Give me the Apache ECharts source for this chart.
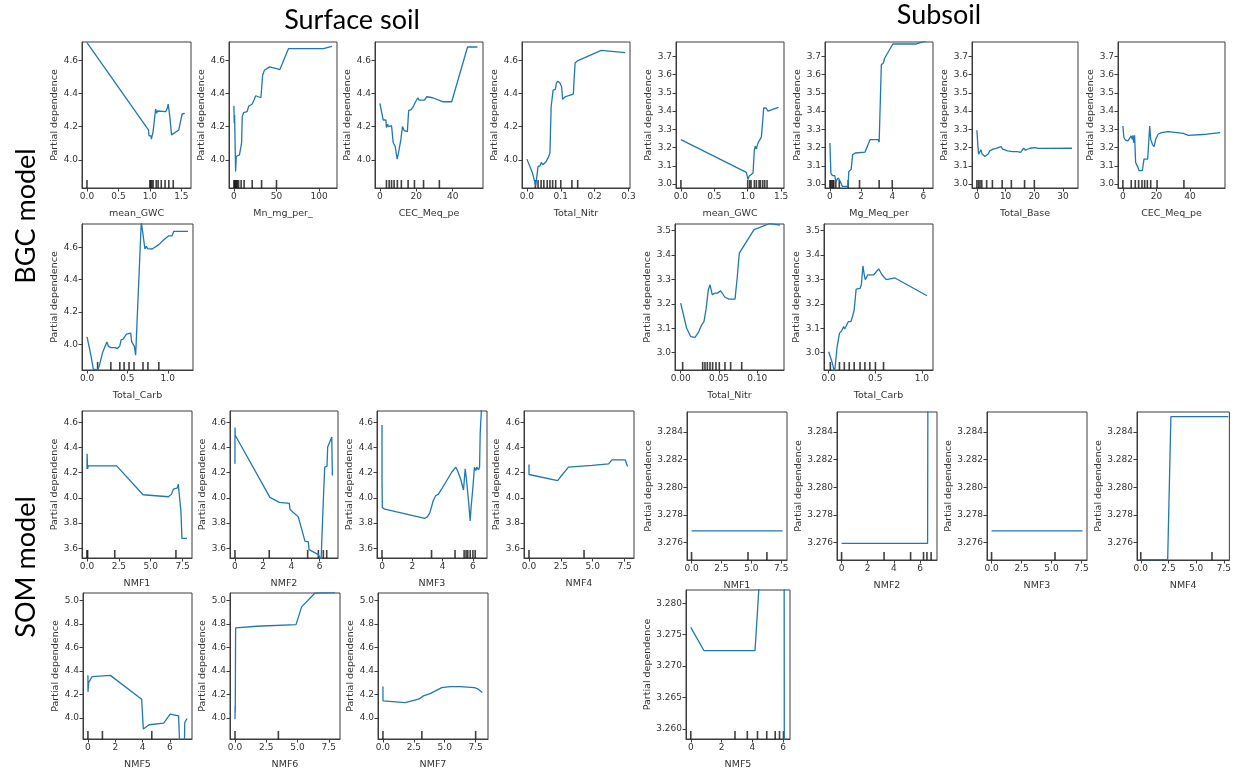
<!DOCTYPE html>
<html><head><meta charset="utf-8">
<script src="https://cdn.jsdelivr.net/npm/echarts@6/dist/echarts.min.js"></script>
<style>html,body{margin:0;padding:0;background:#fff}#c{width:1234px;height:771px}</style>
</head><body><div id="c"></div>
<script>
// ---------- DATA: surface soil, BGC model ----------
const surf_meanGWC = [[0,4.706],[0.976,4.18],[0.986,4.144],[1.018,4.144],[1.023,4.124],[1.05,4.17],[1.07,4.17],[1.08,4.18],[1.09,4.306],[1.107,4.28],[1.118,4.294],[1.249,4.29],[1.275,4.31],[1.29,4.336],[1.31,4.336],[1.316,4.26],[1.327,4.264],[1.343,4.15],[1.364,4.156],[1.458,4.18],[1.511,4.276],[1.553,4.28]];
const surf_meanGWC_rug = [0,1.0,1.01,1.03,1.05,1.1,1.13,1.18,1.24,1.3,1.37];
const surf_Mn = [[0,4.324],[0.4,4.22],[0.8,4.27],[2.0,3.93],[2.8,4.02],[4,4.03],[6.5,4.03],[9,4.1],[9.8,4.26],[11.4,4.284],[13.4,4.28],[15.4,4.29],[17.5,4.324],[21.5,4.336],[23.6,4.36],[25.6,4.386],[27.6,4.374],[31.7,4.374],[33.7,4.51],[35.8,4.54],[41.9,4.56],[50,4.55],[54,4.544],[64,4.67],[105,4.67],[115,4.684]];
const surf_Mn_rug = [0,1,2,3,4,5.5,8.5,12,21.5,32.5,50];
const surf_CEC = [[0,4.34],[1.8,4.24],[3.3,4.24],[3.6,4.194],[4.2,4.214],[4.7,4.2],[5.5,4.21],[6.4,4.206],[7.3,4.104],[8.4,4.08],[9.5,4.004],[10.2,4.04],[11.5,4.12],[12.4,4.2],[13.3,4.176],[15.1,4.17],[15.8,4.296],[17.3,4.304],[18.5,4.324],[19.6,4.35],[20.9,4.374],[21.5,4.36],[24.5,4.36],[25.8,4.38],[29,4.374],[34.5,4.35],[39.5,4.35],[48.2,4.68],[53.6,4.68]];
const surf_CEC_rug = [3.6,5.1,6.4,7.8,9.6,11.8,15.5,19,24,32.7];
const surf_Nitr = [[0,4.004],[0.0165,3.92],[0.026,3.844],[0.031,3.84],[0.033,3.96],[0.036,3.97],[0.039,3.964],[0.0426,3.984],[0.047,3.97],[0.052,3.97],[0.057,3.99],[0.062,4.01],[0.068,4.04],[0.0716,4.32],[0.0755,4.33],[0.0774,4.42],[0.084,4.424],[0.087,4.46],[0.091,4.474],[0.097,4.464],[0.1026,4.44],[0.1055,4.364],[0.113,4.38],[0.128,4.39],[0.137,4.396],[0.1423,4.584],[0.149,4.596],[0.2197,4.66],[0.2904,4.646]];
const surf_Nitr_rug = [0.025,0.033,0.042,0.05,0.06,0.068,0.076,0.085,0.1,0.133,0.15];
const surf_Carb = [[0,4.045],[0.049,3.928],[0.078,3.846],[0.131,3.84],[0.152,3.866],[0.193,3.949],[0.234,4.0],[0.246,4.014],[0.266,3.986],[0.295,3.979],[0.348,3.979],[0.377,3.973],[0.406,3.99],[0.422,4.027],[0.447,4.031],[0.471,4.041],[0.488,4.062],[0.512,4.066],[0.541,4.068],[0.553,4.014],[0.57,4.014],[0.586,3.986],[0.602,3.932],[0.672,4.76],[0.693,4.76],[0.717,4.59],[0.734,4.606],[0.75,4.592],[0.766,4.6],[0.807,4.59],[0.889,4.617],[0.951,4.647],[1.012,4.672],[1.053,4.672],[1.074,4.699],[1.25,4.699]];
const surf_Carb_rug = [0.131,0.295,0.406,0.459,0.52,0.582,0.693,0.754,0.889];
// ---------- DATA: subsoil, BGC model ----------
const sub_meanGWC = [[0,3.243],[0.98,3.064],[1.0,3.06],[1.005,3.024],[1.02,3.042],[1.04,3.051],[1.08,3.06],[1.1,3.188],[1.115,3.207],[1.13,3.192],[1.147,3.216],[1.167,3.234],[1.19,3.247],[1.206,3.261],[1.225,3.27],[1.24,3.417],[1.275,3.417],[1.304,3.40],[1.363,3.408],[1.461,3.42]];
const sub_meanGWC_rug = [0,1.0,1.03,1.05,1.1,1.13,1.17,1.19,1.225,1.255,1.29];
const sub_Mg = [[0,3.225],[0.063,3.06],[0.167,3.046],[0.31,3.046],[0.38,3.015],[0.5,3.015],[0.54,3.033],[0.63,3.024],[0.69,3.009],[0.795,2.987],[1.17,2.987],[1.21,3.069],[1.36,3.079],[1.42,3.088],[1.46,3.161],[1.63,3.17],[2.26,3.175],[2.57,3.243],[3.1,3.243],[3.16,3.229],[3.3,3.654],[3.43,3.664],[3.51,3.69],[4.04,3.768],[5.5,3.768],[6.07,3.783],[6.3,3.79]];
const sub_Mg_rug = [0,0.06,0.13,0.2,0.25,0.38,0.6,1.17,1.9,3.16,4.0];
const sub_Base = [[0,3.295],[0.56,3.164],[0.9,3.173],[1.12,3.158],[1.46,3.187],[1.8,3.164],[2.25,3.164],[2.8,3.151],[3.37,3.149],[3.93,3.164],[4.5,3.182],[5.6,3.191],[6.7,3.196],[8.4,3.205],[9,3.191],[10.7,3.182],[12.4,3.178],[14.0,3.178],[15.2,3.173],[16.3,3.196],[16.9,3.185],[18.5,3.196],[20.2,3.2],[21.3,3.195],[33.1,3.196]];
const sub_Base_rug = [0,0.56,1.1,1.7,3.4,5.4,8.8,12,16.6,20];
const sub_CEC = [[0,3.318],[0.6,3.255],[1.6,3.24],[3,3.236],[4,3.245],[5,3.264],[5.6,3.245],[6,3.267],[6.4,3.227],[7,3.267],[7.6,3.118],[8.4,3.109],[9,3.091],[9.6,3.073],[10.4,3.067],[11.6,3.073],[12.6,3.136],[13.6,3.131],[14.8,3.136],[15.4,3.145],[16,3.318],[16.6,3.245],[17.6,3.218],[18.6,3.205],[19.6,3.245],[21,3.273],[23,3.282],[27,3.287],[36,3.278],[39,3.267],[50,3.273],[58,3.282]];
const sub_CEC_rug = [0,5,7.4,9.4,11.4,13,14.6,16.6,20.4,36.4];
const sub_Nitr = [[0,3.203],[0.0078,3.1],[0.013,3.066],[0.0187,3.063],[0.023,3.082],[0.0274,3.114],[0.0304,3.127],[0.033,3.175],[0.0352,3.181],[0.0361,3.258],[0.0383,3.278],[0.0396,3.285],[0.0413,3.237],[0.0448,3.244],[0.0478,3.244],[0.0522,3.253],[0.0578,3.227],[0.063,3.219],[0.0709,3.219],[0.0739,3.312],[0.0765,3.408],[0.0787,3.411],[0.0957,3.504],[0.1165,3.529],[0.1296,3.522]];
const sub_Nitr_rug = [0.0026,0.0287,0.0317,0.0348,0.0383,0.0417,0.0461,0.0504,0.0578,0.0652,0.0796];
const sub_Carb = [[0,3.004],[0.035,2.963],[0.063,2.92],[0.077,2.97],[0.091,3.025],[0.098,3.032],[0.116,3.079],[0.14,3.09],[0.161,3.107],[0.172,3.097],[0.186,3.107],[0.21,3.127],[0.239,3.127],[0.256,3.148],[0.274,3.175],[0.295,3.26],[0.337,3.263],[0.351,3.278],[0.368,3.356],[0.382,3.319],[0.393,3.299],[0.407,3.306],[0.421,3.319],[0.442,3.312],[0.484,3.319],[0.537,3.343],[0.572,3.319],[0.618,3.299],[0.712,3.306],[1.056,3.233]];
const sub_Carb_rug = [0.018,0.116,0.168,0.221,0.274,0.337,0.389,0.442,0.502,0.589];
// ---------- DATA: surface soil, SOM model ----------
const surf_NMF1 = [[0,4.23],[0.01,4.351],[0.05,4.23],[0.1,4.255],[2.33,4.255],[2.47,4.244],[4.4,4.025],[6.39,4.009],[6.63,4.03],[6.79,4.07],[6.9,4.079],[7.1,4.079],[7.16,4.11],[7.27,4.116],[7.37,3.897],[7.45,3.678],[7.85,3.678]];
const surf_NMF1_rug = [0,0.05,2.18,6.98];
const surf_NMF2 = [[0,4.271],[0.005,4.56],[0.02,4.498],[0.12,4.485],[2.48,4.004],[3.14,3.964],[3.85,3.956],[3.9,3.91],[4.14,3.883],[4.49,3.849],[4.96,3.656],[5.04,3.656],[5.2,3.65],[5.25,3.589],[5.91,3.549],[6.03,3.522],[6.1,3.5],[6.26,3.977],[6.36,4.244],[6.45,4.23],[6.52,4.25],[6.57,4.405],[6.69,4.418],[6.86,4.485],[6.9,4.178],[6.95,4.178]];
const surf_NMF2_rug = [0,2.43,5.15,5.91,6.26,6.5];
const surf_NMF3 = [[0,4.579],[0.002,4.08],[0.005,4.111],[0.02,3.924],[0.18,3.91],[0.29,3.897],[2.83,3.838],[2.99,3.849],[3.16,3.883],[3.38,3.977],[3.54,4.017],[3.72,4.03],[3.94,4.071],[4.6,4.204],[4.87,4.244],[4.98,4.218],[5.2,4.146],[5.38,4.063],[5.49,4.231],[5.56,4.164],[5.64,4.159],[5.71,3.977],[5.82,3.817],[5.88,3.924],[6.0,4.084],[6.1,4.244],[6.19,4.218],[6.26,4.244],[6.37,4.223],[6.44,4.244],[6.48,4.512],[6.57,4.72]];
const surf_NMF3_rug = [0,3.27,4.82,5.42,5.55,5.66,5.82,6.0,6.15];
const surf_NMF4 = [[0,4.266],[0.005,4.186],[0.05,4.183],[2.25,4.137],[2.45,4.164],[3.1,4.244],[4.96,4.258],[6.25,4.271],[6.51,4.303],[7.55,4.303],[7.73,4.25]];
const surf_NMF4_rug = [0,4.32];
const surf_NMF5 = [[0,4.363],[0.005,4.223],[0.05,4.301],[0.31,4.352],[1.64,4.363],[3.93,4.161],[4.05,3.907],[4.17,3.915],[4.48,3.944],[5.54,3.958],[6.02,4.034],[6.63,4.02],[6.7,3.8],[7.06,3.8],[7.08,3.963],[7.18,3.963],[7.25,3.997]];
const surf_NMF5_rug = [0,1.06,4.67];
const surf_NMF6 = [[0,3.99],[0.005,4.104],[0.02,4.048],[0.05,4.766],[0.13,4.772],[1.73,4.78],[4.88,4.794],[5.33,4.944],[6.4,5.062],[8.0,5.065]];
const surf_NMF6_rug = [0,3.47];
const surf_NMF7 = [[0,4.268],[0.005,4.146],[0.05,4.146],[1.8,4.132],[2.88,4.161],[3.28,4.189],[3.82,4.208],[4.76,4.259],[5.43,4.268],[6.24,4.268],[7.4,4.259],[7.5,4.273],[7.63,4.251],[7.74,4.265],[8.04,4.217]];
const surf_NMF7_rug = [0,3.15,7.5];
// ---------- DATA: subsoil, SOM model ----------
const sub_NMF1 = [[0,3.27684],[7.6,3.27684]];
const sub_NMF1_rug = [0,4.72,6.3];
const sub_NMF2 = [[0,3.27593],[6.58,3.27593],[6.6,3.2856],[7.0,3.2856]];
const sub_NMF2_rug = [0,3.25,5.28,6.27,6.53,6.85];
const sub_NMF3 = [[0,3.27684],[7.58,3.27684]];
const sub_NMF3_rug = [0,5.29];
const sub_NMF4 = [[0,3.27476],[2.43,3.27476],[2.72,3.2851],[7.9,3.2851]];
const sub_NMF4_rug = [0,6.43];
const sub_NMF5 = [[0,3.27616],[0.85,3.27247],[4.17,3.27247],[4.45,3.2835],[6.06,3.2835],[6.07,3.257],[6.13,3.257]];
const sub_NMF5_rug = [0,2.87,3.67,4.33,4.93,5.48,5.76,6.02];
// ---------- tick values ----------
const t_gwc = [0,0.5,1.0,1.5];
const t_mn = [0,50,100];
const t_cec = [0,20,40];
const t_nitr = [0,0.1,0.2,0.3];
const t_mg = [0,2,4,6];
const t_base = [0,10,20,30];
const t_carb = [0,0.5,1.0];
const t_subnitr = [0,0.05,0.10];
const t_nmf25 = [0,2.5,5.0,7.5];
const t_nmf2 = [0,2,4,6];
const y_surfBGC = [4.0,4.2,4.4,4.6];
const y_subBGC1 = [3.0,3.1,3.2,3.3,3.4,3.5,3.6,3.7];
const y_subBGC2 = [3.0,3.1,3.2,3.3,3.4,3.5];
const y_surfSOM1 = [3.6,3.8,4.0,4.2,4.4,4.6];
const y_surfSOM2 = [4.0,4.2,4.4,4.6,4.8,5.0];
const y_subSOM1 = [3.276,3.278,3.280,3.282,3.284];
const y_subSOM2 = [3.260,3.265,3.270,3.275,3.280];

// ---------- panels (layout) ----------
const R1 = [42,146], R2 = [224,146], R3 = [411,147], R4 = [593,147];
const yr_sB1 = [3.83,4.71], yr_sB2 = [3.84,4.745], yr_uB1 = [2.978,3.779], yr_uB2 = [2.929,3.527];
const yr_sS1 = [3.522,4.691], yr_sS2 = [3.823,5.062], yr_uS1 = [3.27473,3.28544], yr_uS2 = [3.2584,3.2821];
const panels = [
 {d:surf_meanGWC, r:surf_meanGWC_rug, n:'mean_GWC', g:[82,R1[0],109,R1[1]], xr:[-0.079,1.652], xt:t_gwc, xd:1, yr:yr_sB1, yt:y_surfBGC, yd:1},
 {d:surf_Mn, r:surf_Mn_rug, n:'Mn_mg_per_', g:[229,R1[0],108,R1[1]], xr:[-5.75,121], xt:t_mn, xd:0, yr:yr_sB1, yt:y_surfBGC, yd:1},
 {d:surf_CEC, r:surf_CEC_rug, n:'CEC_Meq_pe', g:[375,R1[0],108,R1[1]], xr:[-2.7,56.7], xt:t_cec, xd:0, yr:yr_sB1, yt:y_surfBGC, yd:1},
 {d:surf_Nitr, r:surf_Nitr_rug, n:'Total_Nitr', g:[522,R1[0],108,R1[1]], xr:[-0.0145,0.3045], xt:t_nitr, xd:1, yr:yr_sB1, yt:y_surfBGC, yd:1},
 {d:sub_meanGWC, r:sub_meanGWC_rug, n:'mean_GWC', g:[676,R1[0],108,R1[1]], xr:[-0.0735,1.5435], xt:t_gwc, xd:1, yr:yr_uB1, yt:y_subBGC1, yd:1},
 {d:sub_Mg, r:sub_Mg_rug, n:'Mg_Meq_per', g:[825,R1[0],108,R1[1]], xr:[-0.315,6.615], xt:t_mg, xd:0, yr:yr_uB1, yt:y_subBGC1, yd:1},
 {d:sub_Base, r:sub_Base_rug, n:'Total_Base', g:[972,R1[0],106,R1[1]], xr:[-1.7,35.2], xt:t_base, xd:0, yr:yr_uB1, yt:y_subBGC1, yd:1},
 {d:sub_CEC, r:sub_CEC_rug, n:'CEC_Meq_pe', g:[1118,R1[0],107,R1[1]], xr:[-2.9,60.9], xt:t_cec, xd:0, yr:yr_uB1, yt:y_subBGC1, yd:1},
 {d:surf_Carb, r:surf_Carb_rug, n:'Total_Carb', g:[82,R2[0],111,R2[1]], xr:[-0.0625,1.3125], xt:t_carb, xd:1, yr:yr_sB2, yt:y_surfBGC, yd:1},
 {d:sub_Nitr, r:sub_Nitr_rug, n:'Total_Nitr', g:[675,R2[0],109,R2[1]], xr:[-0.0074,0.1348], xt:t_subnitr, xd:2, yr:yr_uB2, yt:y_subBGC2, yd:1},
 {d:sub_Carb, r:sub_Carb_rug, n:'Total_Carb', g:[824,R2[0],109,R2[1]], xr:[-0.05,1.12], xt:t_carb, xd:1, yr:yr_uB2, yt:y_subBGC2, yd:1},
 {d:surf_NMF1, r:surf_NMF1_rug, n:'NMF1', g:[82,R3[0],110,R3[1]], xr:[-0.39,8.24], xt:t_nmf25, xd:1, yr:yr_sS1, yt:y_surfSOM1, yd:1},
 {d:surf_NMF2, r:surf_NMF2_rug, n:'NMF2', g:[230,R3[0],108,R3[1]], xr:[-0.35,7.3], xt:t_nmf2, xd:0, yr:yr_sS1, yt:y_surfSOM1, yd:1},
 {d:surf_NMF3, r:surf_NMF3_rug, n:'NMF3', g:[377,R3[0],110,R3[1]], xr:[-0.33,6.93], xt:t_nmf2, xd:0, yr:yr_sS1, yt:y_surfSOM1, yd:1},
 {d:surf_NMF4, r:surf_NMF4_rug, n:'NMF4', g:[524,R3[0],110,R3[1]], xr:[-0.39,8.24], xt:t_nmf25, xd:1, yr:yr_sS1, yt:y_surfSOM1, yd:1},
 {d:sub_NMF1, r:sub_NMF1_rug, n:'NMF1', g:[687,R3[0]+1,100,R3[1]+1], xr:[-0.38,7.98], xt:t_nmf25, xd:1, yr:yr_uS1, yt:y_subSOM1, yd:3},
 {d:sub_NMF2, r:sub_NMF2_rug, n:'NMF2', g:[837,R3[0]+1,100,R3[1]+1], xr:[-0.35,7.3], xt:t_nmf2, xd:0, yr:yr_uS1, yt:y_subSOM1, yd:3},
 {d:sub_NMF3, r:sub_NMF3_rug, n:'NMF3', g:[987,R3[0]+1,100,R3[1]+1], xr:[-0.38,7.96], xt:t_nmf25, xd:1, yr:yr_uS1, yt:y_subSOM1, yd:3},
 {d:sub_NMF4, r:sub_NMF4_rug, n:'NMF4', g:[1137,R3[0]+1,96,R3[1]+1], xr:[-0.34,8.0], xt:t_nmf25, xd:1, yr:yr_uS1, yt:y_subSOM1, yd:3},
 {d:surf_NMF5, r:surf_NMF5_rug, n:'NMF5', g:[83,R4[0],109,R4[1]], xr:[-0.36,7.61], xt:t_nmf2, xd:0, yr:yr_sS2, yt:y_surfSOM2, yd:1},
 {d:surf_NMF6, r:surf_NMF6_rug, n:'NMF6', g:[230,R4[0],110,R4[1]], xr:[-0.4,8.4], xt:t_nmf25, xd:1, yr:yr_sS2, yt:y_surfSOM2, yd:1},
 {d:surf_NMF7, r:surf_NMF7_rug, n:'NMF7', g:[378,R4[0],110,R4[1]], xr:[-0.4,8.5], xt:t_nmf25, xd:1, yr:yr_sS2, yt:y_surfSOM2, yd:1},
 {d:sub_NMF5, r:sub_NMF5_rug, n:'NMF5', g:[686,590,104,150], xr:[-0.31,6.44], xt:t_nmf2, xd:0, yr:yr_uS2, yt:y_subSOM2, yd:3}
];

const AX = '#3c3c3c', TX = '#333', FF = 'DejaVu Sans, sans-serif';
const grid = [], xAxis = [], yAxis = [], series = [];
panels.forEach((p, i) => {
  grid.push({left:p.g[0], top:p.g[1], width:p.g[2], height:p.g[3], show:true, borderColor:AX, borderWidth:1, backgroundColor:'transparent'});
  xAxis.push({type:'value', gridIndex:i, min:p.xr[0], max:p.xr[1], name:p.n, nameLocation:'middle', nameGap:21,
    nameTextStyle:{fontSize:9.5, color:TX, fontFamily:FF},
    splitLine:{show:false}, axisLine:{show:true, onZero:false, lineStyle:{color:AX}},
    axisTick:{show:true, length:3.5, customValues:p.xt, lineStyle:{color:AX}},
    axisLabel:{customValues:p.xt, formatter:v => Number(v).toFixed(p.xd), fontSize:9, color:TX, margin:4, fontFamily:FF}});
  yAxis.push({type:'value', gridIndex:i, min:p.yr[0], max:p.yr[1], name:'Partial dependence', nameLocation:'middle', nameGap:(p.yd===3?30:22),
    nameTextStyle:{fontSize:9.5, color:TX, fontFamily:FF},
    splitLine:{show:false}, axisLine:{show:true, onZero:false, lineStyle:{color:AX}},
    axisTick:{show:true, length:3.5, customValues:p.yt, lineStyle:{color:AX}},
    axisLabel:{customValues:p.yt, formatter:v => Number(v).toFixed(p.yd), fontSize:9, color:TX, margin:4, fontFamily:FF}});
  series.push({type:'line', xAxisIndex:i, yAxisIndex:i, data:p.d, symbol:'none', showSymbol:false, clip:true,
    lineStyle:{color:'#1f77b4', width:1.3}, animation:false, silent:true});
  series.push({type:'scatter', xAxisIndex:i, yAxisIndex:i, data:p.r.map(v => [v, p.yr[0]]), symbol:'rect',
    symbolSize:[1.6, 8], symbolOffset:[0, -4], itemStyle:{color:'#111'}, clip:false, animation:false, silent:true});
});

const TF = 'Lato, "Open Sans", sans-serif';
const chart = echarts.init(document.getElementById('c'), null, {renderer:'canvas'});
chart.setOption({
  backgroundColor:'#fff', animation:false,
  grid, xAxis, yAxis, series,
  graphic:[
    {type:'text', x:352, y:20, style:{text:'Surface soil', fontSize:27, fill:'#000', fontFamily:TF, align:'center', verticalAlign:'middle'}},
    {type:'text', x:939, y:15, style:{text:'Subsoil', fontSize:27, fill:'#000', fontFamily:TF, align:'center', verticalAlign:'middle'}},
    {type:'text', x:26, y:216, rotation:Math.PI/2, style:{text:'BGC model', fontSize:27, fill:'#000', fontFamily:TF, align:'center', verticalAlign:'middle'}},
    {type:'text', x:26, y:567, rotation:Math.PI/2, style:{text:'SOM model', fontSize:27, fill:'#000', fontFamily:TF, align:'center', verticalAlign:'middle'}}
  ]
});
</script></body></html>
